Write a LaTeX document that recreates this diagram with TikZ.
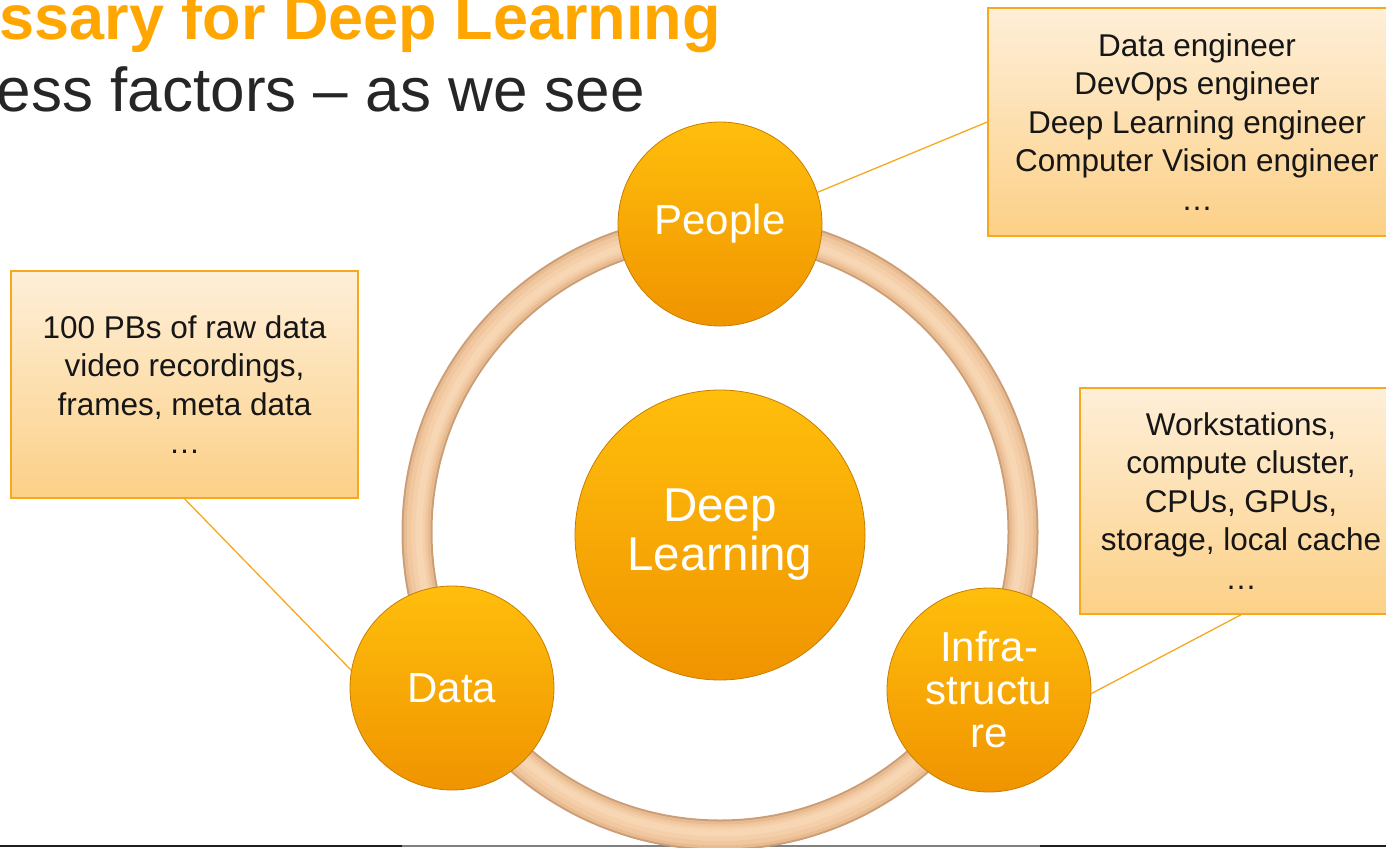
\documentclass[tikz,border=0pt]{standalone}
\usepackage{fontspec}
\setmainfont{Liberation Sans}
\definecolor{titleOrange}{RGB}{255,166,0}
\definecolor{textDark}{RGB}{38,38,38}
\definecolor{boxText}{RGB}{22,22,22}
\definecolor{ballTop}{RGB}{255,190,12}
\definecolor{ballBot}{RGB}{240,148,0}
\definecolor{ballEdge}{RGB}{200,125,0}
\definecolor{boxTop}{RGB}{254,239,216}
\definecolor{boxBot}{RGB}{252,208,135}
\definecolor{boxEdge}{RGB}{247,168,30}
\definecolor{connColor}{RGB}{247,168,30}
\definecolor{ringA}{RGB}{205,158,118}
\definecolor{ringB}{RGB}{232,188,146}
\definecolor{ringC}{RGB}{240,199,158}
\definecolor{ringD}{RGB}{244,207,170}
\definecolor{ringE}{RGB}{247,214,180}
\definecolor{lineDark}{RGB}{30,30,30}
\definecolor{lineGray}{RGB}{128,128,128}
\begin{document}
\begin{tikzpicture}[x=1pt,y=-1pt,
  ball/.style={circle, minimum size=204pt, inner sep=0pt, shade, top color=ballTop, bottom color=ballBot, draw=ballEdge, line width=0.8pt, text=white, font=\fontsize{42}{43}\selectfont, align=center},
  infobox/.style={rectangle, shade, top color=boxTop, bottom color=boxBot, draw=boxEdge, line width=1.5pt, text=boxText, font=\fontsize{31.5}{38.5}\selectfont, align=center, inner sep=0pt},
  conn/.style={draw=connColor, line width=1.3pt},
  baseline rule/.style={line width=1.6pt}
]
\useasboundingbox (0,0) rectangle (1386,848);

% title
\node[anchor=base east, text=titleOrange, font=\bfseries\fontsize{63}{63}\selectfont, inner sep=0pt] (title) at (721,40) {ssary for Deep Learning};
\node[anchor=base east, text=textDark, font=\fontsize{62}{62}\selectfont, inner sep=0pt] (subtitle) at (645,112) {ess factors – as we see};

% bottom rules
\draw[baseline rule, lineDark] (0,846) -- (402,846);
\draw[baseline rule, lineGray] (402,846) -- (1040,846);
\draw[baseline rule, lineDark] (1040,846) -- (1386,846);

% ring
\draw[ringA, line width=31pt] (720,532) circle[radius=303];
\draw[ringB, line width=27pt] (720,532) circle[radius=303];
\draw[ringC, line width=21pt] (720,532) circle[radius=303];
\draw[ringD, line width=14pt] (720,532) circle[radius=302];
\draw[ringE, line width=7pt] (720,532) circle[radius=301];

% info boxes
\node[infobox, minimum width=418pt, minimum height=228pt] (pbox) at (1197,122) {Data engineer\\DevOps engineer\\Deep Learning engineer\\Computer Vision engineer\\…};
\node[infobox, minimum width=347pt, minimum height=227pt] (dbox) at (184.5,384.5) {100 PBs of raw data\\video recordings,\\frames, meta data\\…};
\node[infobox, minimum width=322pt, minimum height=226pt] (ibox) at (1241,501) {Workstations,\\compute cluster,\\CPUs, GPUs,\\storage, local cache\\…};

% balls
\node[ball] (people) at (720,224) {People};
\node[ball] (data) at (452,688) {Data};
\node[ball] (infra) at (989,690) {Infra-\\structu\\re};
\node[ball, minimum size=290pt, font=\fontsize{47.5}{49}\selectfont] (dl) at (720,535) {Deep\\Learning};

% connectors
\draw[conn] (people.18) -- (pbox.west);
\draw[conn] (data.170) -- (dbox.south);
\draw[conn] (infra.-2) -- (ibox.south);
\end{tikzpicture}
\end{document}
